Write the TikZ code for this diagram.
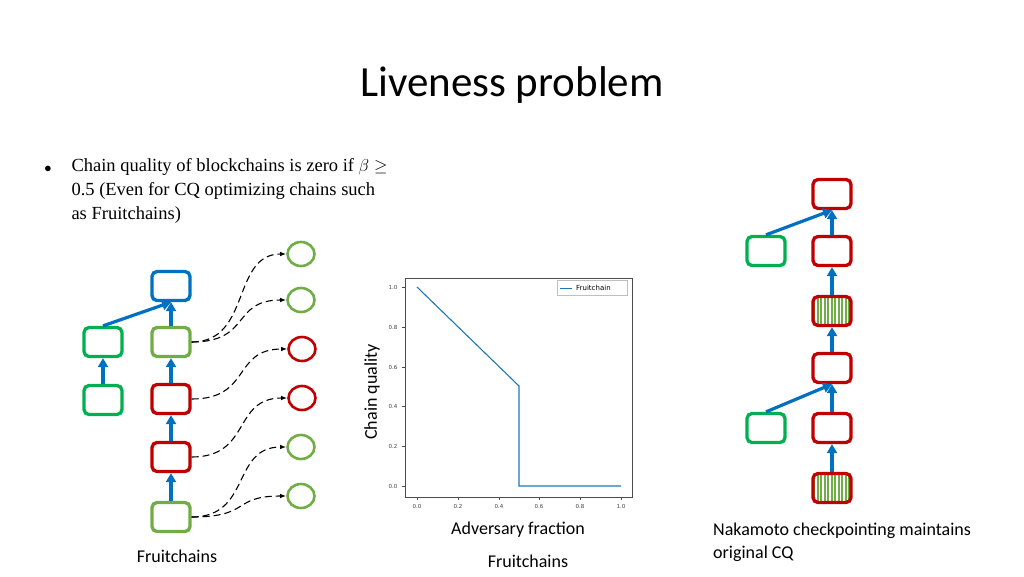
\documentclass[tikz,border=0pt]{standalone}
\usepackage{fontspec}
\setmainfont{Liberation Serif}
\newfontfamily\calfont{Carlito}
\newfontfamily\dvfont{DejaVu Sans}
\usetikzlibrary{arrows.meta,shapes.geometric}
\definecolor{dg}{RGB}{0,176,80}
\definecolor{lg}{RGB}{112,173,71}
\definecolor{rd}{RGB}{192,0,0}
\definecolor{bl}{RGB}{0,112,192}
\definecolor{pl}{RGB}{31,119,180}
\tikzset{
 blk/.style={draw=#1,line width=3.3pt,rounded corners=5pt,minimum width=38pt,minimum height=29pt,inner sep=0pt},
 fr/.style={draw=#1,line width=2.6pt,ellipse,minimum width=27pt,minimum height=24pt,inner sep=0pt},
 ln/.style={bl,line width=3.2pt,-{Triangle[length=9pt,width=10pt]}},
 dsh/.style={black,dash pattern=on 7pt off 4pt,line width=1.1pt,-{Latex[length=6pt]}},
 tk/.style={font=\dvfont\fontsize{5.5}{6}\selectfont,text=black!75},
 hatch/.style={blk=rd,fill=lg,path picture={\foreach \i in {-16,-12.5,...,16}\draw[white,line width=1.2pt] ([xshift=\i pt]path picture bounding box.north) -- ([xshift=\i pt]path picture bounding box.south);}}
}
\begin{document}
\begin{tikzpicture}[x=1pt,y=-1pt]
\useasboundingbox (0,0) rectangle (1024,576);
\node[font=\calfont\fontsize{43}{50}\selectfont] (title) at (512,85) {Liveness problem};
\node[anchor=north west,align=flush left,font=\fontsize{18.5}{24}\selectfont,text width=380pt] (bul) at (68,155) {Chain quality of blockchains is zero if $\beta\geq$\\0.5 (Even for CQ optimizing chains such\\as Fruitchains)};
\node[font=\fontsize{14}{20}\selectfont] (dot) at (48,169) {$\bullet$};
% left
\node[blk=bl] (b1) at (171,286) {};
\node[blk=dg] (g1) at (103,342) {};
\node[blk=lg] (g2) at (171,342) {};
\node[blk=rd] (r1) at (171,399) {};
\node[blk=dg] (g3) at (103,400) {};
\node[blk=rd] (r2) at (171,457) {};
\node[blk=lg] (g4) at (171,517) {};
\draw[ln] (g3) -- (g1);
\draw[ln] (g1.north) -- (b1.south);
\draw[ln] (g2) -- (b1);
\draw[ln] (r1) -- (g2);
\draw[ln] (r2) -- (r1);
\draw[ln] (g4) -- (r2);
\node[fr=lg] (c1) at (301,254) {};
\node[fr=lg] (c2) at (301,300) {};
\node[fr=rd] (c3) at (302,349) {};
\node[fr=rd] (c4) at (302,398) {};
\node[fr=lg] (c5) at (301,447) {};
\node[fr=lg] (c6) at (301,496) {};
\foreach \s/\t in {g2/c1,g2/c2,r1/c3,r2/c4,g4/c5,g4/c6}
 \draw[dsh] (\s.east) .. controls +(60,0) and +(-55,0) .. (\t.west);
\node[font=\calfont\fontsize{18}{20}\selectfont] (lab1) at (177,556) {Fruitchains};
% plot
\draw[black!70,line width=0.8pt] (405,278) rectangle (632,497);
\node[draw=black!25,line width=0.5pt,minimum width=70pt,minimum height=15pt,inner sep=0pt] (leg) at (592,288) {};
\draw[pl,line width=0.8pt] (560,288) -- (572,288);
\node[anchor=west,font=\dvfont\fontsize{7}{8}\selectfont,inner sep=0pt] (legt) at (576,288) {Fruitchain};
\draw[pl,line width=1.1pt] (417,287) -- (519,386) -- (519,486) -- (621,486);
\foreach \v/\y in {0.0/486,0.2/446,0.4/406,0.6/367,0.8/327,1.0/287}{
 \draw[black!70] (405,\y) -- (402,\y);
 \node[tk,anchor=east] at (401,\y) {\v};}
\foreach \v/\x in {0.0/417,0.2/458,0.4/499,0.6/539,0.8/580,1.0/621}{
 \draw[black!70] (\x,497) -- (\x,500);
 \node[tk,anchor=north] at (\x,501) {\v};}
\node[rotate=90,font=\calfont\fontsize{18}{20}\selectfont] (yl) at (372,392) {Chain quality};
\node[font=\calfont\fontsize{18}{20}\selectfont] (xl) at (518,530) {Adversary fraction};
\node[font=\calfont\fontsize{18}{20}\selectfont] (lab2) at (528,561) {Fruitchains};
% right
\node[blk=rd] (n1) at (832,194) {};
\node[blk=rd] (n2) at (832,251) {};
\node[hatch] (n3) at (832,311) {};
\node[blk=rd] (n4) at (832,368) {};
\node[blk=rd] (n5) at (832,428) {};
\node[hatch] (n6) at (832,488) {};
\node[blk=dg] (m1) at (766,251) {};
\node[blk=dg] (m2) at (766,428) {};
\draw[ln] (n2) -- (n1);
\draw[ln] (n3) -- (n2);
\draw[ln] (n4) -- (n3);
\draw[ln] (n5) -- (n4);
\draw[ln] (n6) -- (n5);
\draw[ln] (m1.north) -- (n1.south);
\draw[ln] (m2.north) -- (n4.south);
\node[anchor=north west,align=left,font=\calfont\fontsize{18}{23}\selectfont,inner sep=0pt] (lab3) at (713,523) {Nakamoto checkpointing maintains\\original CQ};
\end{tikzpicture}
\end{document}
